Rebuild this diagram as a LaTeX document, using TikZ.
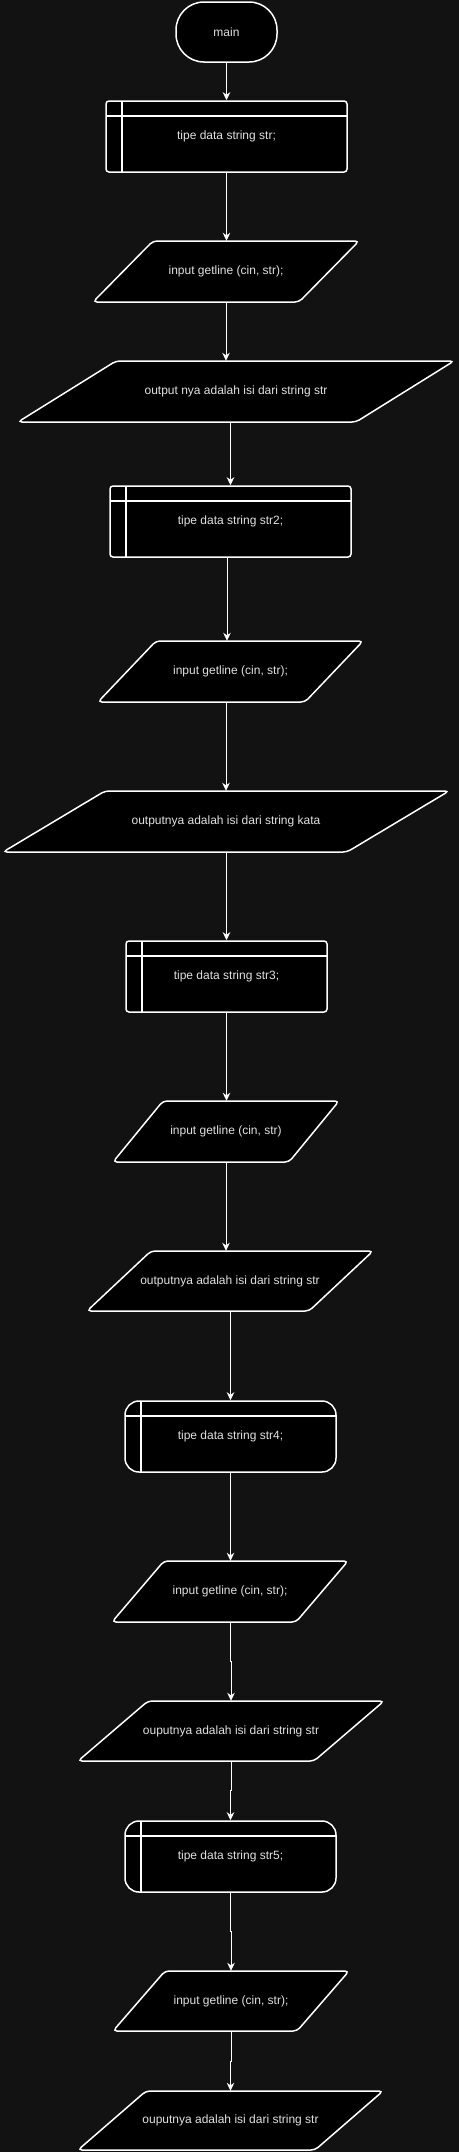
\documentclass[tikz,border=0pt]{standalone}
\usepackage{fontspec}
\setmainfont{Liberation Sans}
\usetikzlibrary{arrows.meta,calc}
\definecolor{bgc}{RGB}{18,18,18}
\definecolor{txt}{RGB}{225,225,225}
\tikzset{
  shapeline/.style={draw=white, fill=black, line width=1.5pt},
  iotext/.style={inner sep=0pt, text=txt},
  term/.style={shapeline, rounded corners=28pt, text=txt, minimum width=101pt, minimum height=60pt, inner sep=0pt},
  stor/.style={shapeline, rounded corners=#1, text=txt, minimum height=71pt, inner sep=0pt,
    path picture={
      \draw[white, line width=1.5pt] ([xshift=16pt]path picture bounding box.north west) -- ([xshift=16pt]path picture bounding box.south west);
      \draw[white, line width=1.5pt] ([yshift=-15pt]path picture bounding box.north west) -- ([yshift=-15pt]path picture bounding box.north east);
    }},
  stor/.default=3pt,
  conn/.style={draw=white, line width=1pt, -{Stealth[length=8pt,width=7.5pt,inset=2.5pt]}}
}
% name, cx, cy, middle width, height, slant, text
\newcommand\ioshape[7]{%
  \draw[shapeline, rounded corners=4pt]
    ({#2-#4/2+#6/2},{#3-#5/2}) -- ({#2+#4/2+#6/2},{#3-#5/2}) --
    ({#2+#4/2-#6/2},{#3+#5/2}) -- ({#2-#4/2-#6/2},{#3+#5/2}) -- cycle;
  \node[iotext, minimum width=#4pt, minimum height=#5pt] (#1) at (#2,#3) {#7};
}
\begin{document}
\begin{tikzpicture}[x=1pt, y=-1pt, font=\fontsize{12}{14}\selectfont]
\useasboundingbox (0,0) rectangle (458,2152);
\fill[bgc] (-5,-5) rectangle (463,2157);

\node[term] (main) at (226.5,32) {main};
\node[stor, minimum width=241pt] (b1) at (226.5,136.5) {tipe data string str;};
\ioshape{p1}{226}{271.5}{206}{61}{60}{input getline (cin, str);}
\ioshape{p2}{236}{391.5}{338}{61}{98}{output nya adalah isi dari string str}
\node[stor, minimum width=241pt] (b2) at (230.5,521.5) {tipe data string str2;};
\ioshape{p3}{230.5}{671.5}{207}{61}{58}{input getline (cin, str);}
\ioshape{p4}{226}{821.5}{344}{61}{102}{outputnya adalah isi dari string kata}
\node[stor, minimum width=201pt] (b3) at (226.5,976.5) {tipe data string str3;};
\ioshape{p5}{226}{1131.5}{176}{61}{50}{input getline (cin, str)}
\ioshape{p6}{230}{1281}{222}{60}{64}{outputnya adalah isi dari string str}
\node[stor=14pt, minimum width=211pt] (b4) at (230.5,1436.5) {tipe data string str4;};
\ioshape{p7}{230}{1591.5}{184}{61}{52}{input getline (cin, str);}
\ioshape{p8}{231}{1731}{236}{60}{70}{ouputnya adalah isi dari string str}
\node[stor=14pt, minimum width=211pt] (b5) at (230.5,1856.5) {tipe data string str5;};
\ioshape{p9}{231}{2001}{184}{60}{52}{input getline (cin, str);}
\ioshape{p10}{230.5}{2120.5}{237}{59}{68}{ouputnya adalah isi dari string str}

\draw[conn] (main.south) -- (b1.north);
\draw[conn] (b1.south) -- (b1.south |- p1.north);
\draw[conn] (p1.south) -- (p1.south |- p2.north);
\draw[conn] (b2.north |- p2.south) -- (b2.north);
\draw[conn] ([xshift=-3.5pt]b2.south) -- ([xshift=-3.5pt]b2.south |- p3.north);
\draw[conn] (p4.north |- p3.south) -- (p4.north);
\draw[conn] (b3.north |- p4.south) -- (b3.north);
\draw[conn] (b3.south) -- (b3.south |- p5.north);
\draw[conn] (p5.south) -- (p5.south |- p6.north);
\draw[conn] (b4.north |- p6.south) -- (b4.north);
\draw[conn] (b4.south) -- (b4.south |- p7.north);
\draw[conn] (p7.south) |- ($(p7.south)!0.5!(p8.north)$) -| (p8.north);
\draw[conn] (p8.south) |- ($(p8.south)!0.5!(b5.north)$) -| (b5.north);
\draw[conn] (b5.south) |- ($(b5.south)!0.5!(p9.north)$) -| (p9.north);
\draw[conn] (p9.south) |- ($(p9.south)!0.5!(p10.north)$) -| (p10.north);
\end{tikzpicture}
\end{document}
